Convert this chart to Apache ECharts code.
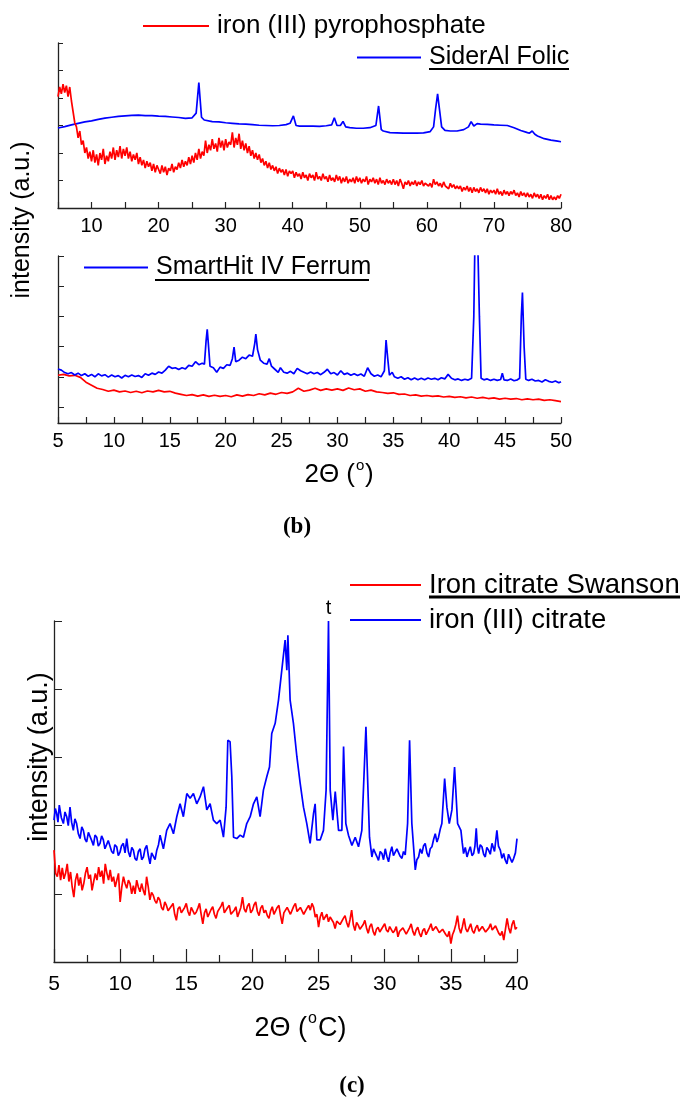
<!DOCTYPE html>
<html><head><meta charset="utf-8">
<script src="https://cdn.jsdelivr.net/npm/echarts@6/dist/echarts.min.js"></script>
<style>html,body{margin:0;padding:0;background:#fff}#c{width:680px;height:1097px}</style>
</head><body><div id="c"></div>
<script>
// ---------- Panel (b) top: 2Θ 5–80 ----------
const red1Start = 5, red1Step = 0.25;
const red1 = [
  4.05,4.4,4.15,4.5,4.2,4.45,4.05,4.4,3.9,3.5,3.1,2.95,2.55,2.8,2.3,2.45,2.0,2.2,1.8,2.05,
  1.7,2.1,1.65,1.95,1.55,2.0,1.75,2.15,1.6,1.9,1.7,2.05,1.8,2.2,1.75,2.1,1.85,2.25,1.8,2.15,
  1.9,2.2,1.8,2.05,1.7,1.95,1.75,2.0,1.6,1.85,1.55,1.75,1.45,1.7,1.5,1.65,1.35,1.6,1.3,1.55,
  1.4,1.25,1.55,1.3,1.5,1.2,1.45,1.35,1.6,1.3,1.5,1.4,1.65,1.45,1.75,1.5,1.7,1.55,1.85,1.6,
  1.9,1.65,2.0,1.75,2.15,1.8,2.05,1.9,2.45,2.0,2.3,2.1,2.5,2.15,2.35,2.05,2.55,2.2,2.45,2.1,
  2.5,2.2,2.4,2.3,2.75,2.2,2.55,2.3,2.7,2.15,2.45,2.1,2.35,2.0,2.25,1.9,2.1,1.8,2.0,1.75,
  1.95,1.65,1.8,1.55,1.7,1.45,1.65,1.4,1.55,1.35,1.5,1.25,1.45,1.3,1.4,1.2,1.4,1.15,1.35,1.25,
  1.35,1.1,1.3,1.15,1.25,1.05,1.3,1.1,1.2,1.0,1.25,1.1,1.2,1.0,1.3,1.05,1.15,1.0,1.25,1.05,
  1.15,0.95,1.2,1.0,1.1,0.95,1.2,1.0,1.15,0.9,1.1,0.95,1.15,0.9,1.05,0.95,1.1,0.9,1.15,0.95,
  1.1,0.9,1.05,0.95,1.15,0.85,1.05,0.95,1.1,0.9,1.05,0.85,1.1,0.9,1.0,0.85,1.05,0.9,1.0,0.85,
  1.05,0.85,1.0,0.8,1.05,0.9,0.7,0.95,0.85,1.0,0.8,0.95,0.85,1.0,0.8,0.95,0.85,1.0,0.8,0.9,
  0.95,0.8,0.9,0.75,1.05,0.85,0.95,0.8,0.9,0.75,0.95,0.8,0.85,0.7,0.9,0.75,0.85,0.7,0.8,0.7,
  0.8,0.6,0.75,0.65,0.8,0.6,0.75,0.55,0.75,0.6,0.7,0.55,0.75,0.6,0.7,0.55,0.7,0.5,0.65,0.55,
  0.65,0.5,0.7,0.5,0.6,0.45,0.65,0.5,0.6,0.45,0.6,0.5,0.65,0.45,0.55,0.4,0.6,0.45,0.55,0.4,
  0.55,0.4,0.5,0.35,0.55,0.4,0.5,0.35,0.5,0.3,0.45,0.35,0.5,0.3,0.45,0.3,0.4,0.3,0.45,0.35,
  0.5];
const blue1 = [[5,2.91],[6,2.96],[7,3.02],[8,3.08],[9,3.13],[10,3.17],[11,3.22],[12,3.27],[13,3.3],[14,3.33],
  [15,3.35],[16,3.37],[17,3.38],[18,3.36],[19,3.36],[20,3.34],[21,3.33],[22,3.31],[23,3.29],[24,3.26],
  [25,3.28],[25.6,3.45],[26.0,4.56],[26.4,3.3],[26.8,3.2],[28,3.14],[29,3.13],[30,3.1],[31,3.08],[32,3.06],
  [33,3.05],[34,3.03],[35,3.01],[36,3.0],[37,2.99],[38,3.0],[39,3.03],[39.6,3.08],[40.1,3.35],[40.5,3.0],
  [41,2.98],[42,2.98],[43,2.98],[44,2.97],[45,2.99],[45.8,3.02],[46.2,3.28],[46.6,3.0],[47.1,3.0],[47.5,3.15],
  [47.9,2.95],[48.5,2.92],[49.5,2.9],[50.5,2.9],[51.5,2.92],[52.4,3.0],[52.8,3.71],[53.2,2.85],[53.5,2.8],[54.5,2.74],
  [55.5,2.73],[56.5,2.72],[57.5,2.72],[58.5,2.72],[59.5,2.73],[60.5,2.78],[61.0,2.95],[61.3,3.6],[61.6,4.15],[61.9,3.55],
  [62.2,2.95],[62.7,2.82],[63.5,2.8],[64.5,2.8],[65.5,2.85],[66.2,2.95],[66.6,3.14],[67.0,2.98],[67.5,3.07],[68,3.05],
  [69,3.04],[70,3.02],[71,3.01],[72,3.0],[73,2.92],[74,2.82],[75,2.74],[75.3,2.72],[75.7,2.8],[76.1,2.68],
  [76.5,2.62],[77.5,2.52],[78.5,2.47],[79.5,2.43],[80,2.41]];

// ---------- Panel (b) bottom: 2Θ 5–50 ----------
const red2Start = 5, red2Step = 0.5;
const red2 = [1.05,1.08,1.03,1.05,0.98,0.82,0.72,0.62,0.58,0.52,
  0.56,0.5,0.53,0.48,0.52,0.47,0.53,0.5,0.55,0.5,
  0.52,0.46,0.42,0.38,0.41,0.36,0.4,0.35,0.39,0.35,
  0.38,0.34,0.4,0.36,0.41,0.38,0.44,0.4,0.46,0.42,
  0.48,0.45,0.5,0.62,0.52,0.56,0.62,0.55,0.6,0.56,
  0.6,0.55,0.63,0.57,0.6,0.52,0.56,0.5,0.48,0.45,
  0.47,0.42,0.43,0.38,0.4,0.36,0.38,0.35,0.37,0.33,
  0.35,0.32,0.34,0.3,0.33,0.29,0.32,0.28,0.3,0.26,
  0.29,0.26,0.28,0.24,0.27,0.24,0.26,0.22,0.24,0.21,
  0.18];
const blue2 = [[5.0,1.26],[5.3,1.22],[5.6,1.14],[5.9,1.1],[6.2,1.14],[6.5,1.06],[6.8,1.12],[7.1,1.04],[7.4,1.1],[7.7,1.02],
  [8.0,1.08],[8.3,1.0],[8.6,1.1],[8.9,1.03],[9.2,1.07],[9.5,0.99],[9.8,1.06],[10.1,1.0],[10.4,1.04],[10.7,0.96],
  [11.0,1.05],[11.3,1.0],[11.6,1.06],[11.9,1.01],[12.2,1.04],[12.5,0.98],[12.8,1.1],[13.1,1.05],[13.4,1.12],[13.7,1.08],
  [14.0,1.16],[14.3,1.12],[14.6,1.22],[14.9,1.35],[15.2,1.28],[15.5,1.3],[15.8,1.24],[16.1,1.3],[16.4,1.26],[16.7,1.38],
  [17.0,1.35],[17.3,1.5],[17.6,1.4],[17.9,1.45],[18.1,1.42],[18.25,2.2],[18.35,2.57],[18.45,2.1],[18.6,1.35],[18.9,1.3],
  [19.2,1.15],[19.5,1.32],[19.8,1.28],[20.1,1.4],[20.4,1.38],[20.6,1.6],[20.75,1.98],[20.9,1.5],[21.2,1.55],[21.5,1.65],
  [21.8,1.6],[22.1,1.72],[22.4,1.68],[22.6,2.1],[22.7,2.41],[22.85,1.9],[23.1,1.55],[23.4,1.45],[23.7,1.42],[23.9,1.6],
  [24.1,1.35],[24.4,1.25],[24.7,1.15],[24.9,1.3],[25.2,1.15],[25.5,1.12],[25.8,1.18],[26.1,1.1],[26.4,1.28],[26.7,1.2],
  [27.0,1.15],[27.3,1.1],[27.6,1.16],[27.9,1.1],[28.2,1.14],[28.5,1.07],[28.8,1.15],[29.1,1.25],[29.4,1.1],[29.7,1.14],
  [30.0,1.06],[30.3,1.2],[30.6,1.08],[30.9,1.12],[31.2,1.05],[31.5,1.1],[31.8,1.04],[32.1,1.09],[32.4,1.02],[32.7,1.3],
  [33.0,1.1],[33.3,1.02],[33.6,1.06],[33.9,1.0],[34.2,1.2],[34.35,2.22],[34.5,1.6],[34.65,1.05],[34.9,1.15],[35.1,1.0],
  [35.4,0.95],[35.7,1.0],[36.0,0.92],[36.3,0.97],[36.6,0.9],[36.9,0.96],[37.2,0.9],[37.5,0.95],[37.8,0.9],[38.1,0.96],
  [38.4,0.92],[38.7,0.95],[39.0,0.9],[39.3,0.97],[39.6,0.93],[39.9,1.08],[40.2,0.95],[40.5,0.9],[40.8,0.93],[41.1,0.88],
  [41.4,0.92],[41.7,0.89],[42.0,0.95],[42.2,3.0],[42.3,5.5],[42.55,5.5],[42.7,3.0],[42.85,0.95],[43.1,0.9],[43.4,0.93],
  [43.7,0.88],[44.0,0.92],[44.3,0.88],[44.6,0.91],[44.75,1.12],[44.9,0.9],[45.2,0.88],[45.5,0.93],[45.8,0.87],[46.1,0.9],
  [46.3,0.95],[46.45,3.0],[46.55,3.79],[46.7,2.0],[46.85,0.92],[47.1,0.88],[47.4,0.92],[47.7,0.86],[48.0,0.88],[48.3,0.83],
  [48.6,0.9],[48.9,0.85],[49.2,0.82],[49.5,0.86],[49.8,0.8],[50.0,0.84]];

// ---------- Panel (c): 2Θ 5–40 ----------
const red3Start = 5, red3Step = 0.125;
const red3 = [
  1.64,1.30,1.25,1.42,1.20,1.38,1.22,1.30,1.44,1.18,1.32,1.10,0.95,1.20,1.30,1.12,1.24,1.05,1.15,1.30,
  1.39,1.22,1.28,1.05,1.18,1.30,1.20,1.39,1.25,1.34,1.15,1.44,1.30,1.20,1.35,1.18,1.25,1.10,1.20,1.30,
  0.88,1.10,1.25,1.15,1.08,1.20,1.15,1.00,1.12,1.00,1.20,1.10,1.03,1.15,1.05,0.98,1.25,1.10,0.91,1.02,
  0.98,0.90,0.86,0.95,0.91,0.80,0.76,0.88,0.83,0.75,0.73,0.82,0.86,0.70,0.61,0.78,0.81,0.72,0.71,0.80,
  0.86,0.74,0.68,0.80,0.81,0.70,0.73,0.79,0.86,0.70,0.56,0.72,0.78,0.66,0.68,0.77,0.81,0.70,0.64,0.74,
  0.76,0.82,0.88,0.72,0.71,0.80,0.83,0.70,0.68,0.76,0.81,0.66,0.64,0.80,0.95,0.78,0.73,0.82,0.86,0.72,
  0.76,0.84,0.88,0.74,0.68,0.79,0.83,0.72,0.76,0.68,0.64,0.75,0.81,0.70,0.71,0.80,0.83,0.68,0.56,0.72,
  0.76,0.80,0.78,0.70,0.71,0.82,0.86,0.74,0.73,0.80,0.81,0.70,0.68,0.79,0.83,0.76,0.86,0.80,0.66,0.70,
  0.51,0.66,0.73,0.62,0.64,0.70,0.59,0.66,0.66,0.58,0.49,0.60,0.61,0.55,0.56,0.64,0.68,0.58,0.51,0.62,
  0.76,0.55,0.46,0.58,0.54,0.48,0.46,0.55,0.61,0.50,0.42,0.52,0.56,0.45,0.39,0.48,0.51,0.44,0.42,0.52,
  0.56,0.47,0.44,0.52,0.51,0.43,0.46,0.52,0.37,0.45,0.44,0.50,0.51,0.41,0.42,0.50,0.56,0.45,0.39,0.47,
  0.51,0.42,0.37,0.46,0.49,0.40,0.42,0.50,0.56,0.46,0.44,0.52,0.51,0.43,0.42,0.48,0.49,0.40,0.37,0.45,
  0.27,0.40,0.46,0.55,0.68,0.50,0.42,0.52,0.64,0.49,0.44,0.50,0.56,0.46,0.42,0.50,0.54,0.45,0.44,0.52,
  0.51,0.44,0.42,0.50,0.56,0.47,0.46,0.53,0.51,0.42,0.39,0.45,0.32,0.48,0.64,0.50,0.42,0.55,0.61,0.48,
  0.51];
const blue3 = [[5.00,2.08],[5.10,2.25],[5.20,2.18],[5.30,2.05],[5.40,2.30],[5.55,2.12],[5.71,2.03],[5.83,2.2],[5.96,2.13],[6.08,2.0],
  [6.21,2.27],[6.33,2.05],[6.46,1.93],[6.58,2.1],[6.71,2.03],[6.84,1.88],[6.97,1.81],[7.1,1.98],[7.22,1.93],[7.35,1.8],
  [7.47,1.76],[7.6,1.9],[7.72,1.91],[7.85,1.78],[7.98,1.71],[8.1,1.86],[8.23,1.83],[8.35,1.7],[8.48,1.74],[8.6,1.85],
  [8.73,1.79],[8.85,1.66],[8.98,1.64],[9.1,1.78],[9.24,1.76],[9.36,1.62],[9.49,1.59],[9.6,1.72],[9.74,1.69],[9.86,1.56],
  [9.99,1.61],[10.1,1.7],[10.24,1.74],[10.37,1.6],[10.50,1.81],[10.62,1.62],[10.75,1.54],[10.88,1.68],[11.00,1.64],[11.12,1.52],
  [11.25,1.49],[11.38,1.62],[11.51,1.66],[11.63,1.5],[11.76,1.54],[11.88,1.66],[12.01,1.71],[12.14,1.55],[12.26,1.44],[12.38,1.6],
  [12.51,1.59],[12.64,1.5],[12.77,1.64],[12.9,1.72],[13.02,1.86],[13.27,1.66],[13.52,1.93],[13.77,2.03],[14.03,1.88],[14.28,2.13],
  [14.53,2.32],[14.78,2.13],[15.04,2.47],[15.29,2.40],[15.54,2.47],[15.79,2.32],[16.04,2.42],[16.30,2.57],[16.55,2.23],[16.80,2.32],
  [17.05,2.08],[17.30,2.03],[17.56,2.08],[17.81,1.83],[18.01,2.27],[18.14,3.25],[18.31,3.23],[18.44,2.72],[18.57,1.83],[18.82,1.81],
  [19.07,1.86],[19.32,1.83],[19.57,2.03],[19.83,2.13],[20.08,2.32],[20.33,2.42],[20.58,2.13],[20.83,2.52],[21.09,2.72],[21.29,2.86],
  [21.46,3.35],[21.72,3.50],[21.97,3.84],[22.22,4.28],[22.47,4.72],[22.60,4.28],[22.68,4.79],[22.85,3.84],[23.10,3.50],[23.36,3.01],
  [23.61,2.62],[23.86,2.27],[24.11,2.03],[24.36,1.74],[24.62,2.18],[24.74,2.32],[24.87,1.79],[25.12,1.79],[25.37,1.93],[25.57,2.52],
  [25.75,5.00],[25.88,2.52],[26.08,2.08],[26.26,2.50],[26.51,1.93],[26.76,1.93],[26.89,3.16],[27.06,2.03],[27.26,1.86],[27.52,1.71],
  [27.77,1.83],[28.02,1.69],[28.27,1.93],[28.58,3.45],[28.85,1.83],[29.03,1.54],[29.15,1.66],[29.28,1.64],[29.4,1.55],[29.53,1.49],
  [29.66,1.62],[29.79,1.59],[29.91,1.5],[30.04,1.66],[30.16,1.55],[30.29,1.47],[30.41,1.6],[30.54,1.69],[30.66,1.56],[30.79,1.54],
  [30.92,1.66],[31.05,1.64],[31.17,1.55],[31.30,1.52],[31.42,1.62],[31.55,1.57],[31.73,2.03],[31.88,3.25],[32.05,2.03],[32.31,1.35],
  [32.43,1.5],[32.56,1.54],[32.68,1.66],[32.81,1.59],[32.93,1.7],[33.06,1.74],[33.19,1.6],[33.32,1.54],[33.44,1.66],[33.57,1.69],
  [33.7,1.8],[33.82,1.88],[33.95,1.76],[34.07,1.83],[34.2,1.95],[34.32,2.03],[34.53,2.69],[34.70,2.27],[34.88,2.03],[35.08,2.23],
  [35.28,2.86],[35.51,2.03],[35.76,1.93],[35.86,1.75],[35.96,1.59],[36.09,1.68],[36.22,1.54],[36.34,1.62],[36.47,1.69],[36.6,1.56],
  [36.72,1.59],[36.82,1.7],[36.92,1.96],[37.0,1.7],[37.10,1.59],[37.22,1.72],[37.35,1.69],[37.48,1.58],[37.60,1.54],[37.72,1.68],
  [37.85,1.64],[37.98,1.58],[38.11,1.74],[38.3,1.62],[38.48,1.93],[38.6,1.7],[38.74,1.64],[38.86,1.52],[38.99,1.59],[39.1,1.5],
  [39.24,1.44],[39.36,1.58],[39.49,1.57],[39.62,1.46],[39.75,1.52],[39.88,1.6],[40.00,1.81]];

const names = {
  red1: 'iron (III) pyrophosphate', blue1: 'SiderAl Folic',
  red2: 'iron (III) pyrophosphate (ref.)', blue2: 'SmartHit IV Ferrum',
  red3: 'Iron citrate Swanson', blue3: 'iron (III) citrate'
};
const peakLabel = { x: 25.75, y: 5.0, text: 't' };

// ---------- build ----------
const grid = (a, s, st) => a.map((v, i) => [s + i * st, v]);
const FONT = "'Liberation Sans', Arial, sans-serif";
const RED = '#ff0000', BLUE = '#0000ff', AX = '#222';

function xAx(gi, min, max, opts) {
  return Object.assign({
    gridIndex: gi, type: 'value', min: min, max: max, interval: 5,
    axisLine: { onZero: false, lineStyle: { color: AX, width: 1.3 } },
    axisTick: { inside: true, length: 6, lineStyle: { color: AX, width: 1.2 } },
    axisLabel: { fontSize: 20, color: '#000', fontFamily: FONT, margin: 8 },
    splitLine: { show: false }
  }, opts);
}
function yAx(gi, min, max, opts) {
  return Object.assign({
    gridIndex: gi, type: 'value', min: min, max: max,
    axisLine: { show: true, onZero: false, lineStyle: { color: AX, width: 1.3 } },
    axisLabel: { show: false }, splitLine: { show: false }
  }, opts);
}
function line(name, xi, color, data, extra) {
  return Object.assign({
    name: name, type: 'line', xAxisIndex: xi, yAxisIndex: xi, data: data,
    symbol: 'none', smooth: false, color: color,
    lineStyle: { color: color, width: 1.7 }, clip: true
  }, extra || {});
}
function leg(name, left, top, w, fs) {
  return {
    data: [name], left: left, top: top, padding: 0, itemWidth: w, itemHeight: 2,
    icon: 'rect', selectedMode: false,
    textStyle: { fontSize: fs, color: '#000', fontFamily: FONT, padding: [0, 0, 0, 3] }
  };
}
function txt(x, y, s, fs, extra) {
  return { type: 'text', x: x, y: y, style: Object.assign({ text: s, fontSize: fs, fontFamily: FONT, fill: '#000',
    align: 'left', verticalAlign: 'middle' }, extra || {}) };
}

const chart = echarts.init(document.getElementById('c'), null, { renderer: 'canvas' });
chart.setOption({
  animation: false,
  backgroundColor: '#fff',
  grid: [
    { left: 58, top: 43, width: 503, height: 165 },
    { left: 58, top: 256, width: 503, height: 167 },
    { left: 54, top: 621, width: 463, height: 341 }
  ],
  xAxis: [
    xAx(0, 5, 80, { axisLabel: { fontSize: 20, color: '#000', fontFamily: FONT, margin: 8,
      formatter: v => (v % 10 === 0 ? String(v) : '') } }),
    xAx(1, 5, 50, { minorTick: { show: true, splitNumber: 2, length: 6, lineStyle: { color: AX, width: 1.2 } } }),
    xAx(2, 5, 40, { axisTick: { inside: true, length: 13, lineStyle: { color: AX, width: 1.2 } },
      minorTick: { show: true, splitNumber: 2, length: 7, lineStyle: { color: AX, width: 1.2 } },
      axisLabel: { fontSize: 21, color: '#000', fontFamily: FONT, margin: 12 } })
  ],
  yAxis: [
    yAx(0, 0, 6, { interval: 1, axisTick: { inside: true, length: 5, lineStyle: { color: AX } } }),
    yAx(1, -0.53, 5, { axisTick: { inside: true, length: 6, customValues: [0, 1, 2, 3, 4, 5], lineStyle: { color: AX } } }),
    yAx(2, 0, 5, { interval: 1, axisTick: { inside: true, length: 8, lineStyle: { color: AX } } })
  ],
  legend: [
    leg(names.red1, 143, 13, 66, 26),
    leg(names.blue1, 357, 45, 64, 25),
    leg(names.blue2, 84, 255, 64, 25),
    leg(names.red3, 350, 571, 71, 27.5),
    leg(names.blue3, 350, 606, 71, 27.5)
  ],
  series: [
    line(names.blue1, 0, BLUE, blue1),
    line(names.red1, 0, RED, grid(red1, red1Start, red1Step)),
    line(names.red2, 1, RED, grid(red2, red2Start, red2Step)),
    line(names.blue2, 1, BLUE, blue2),
    line(names.red3, 2, RED, grid(red3, red3Start, red3Step)),
    line(names.blue3, 2, BLUE, blue3, {
      markPoint: {
        symbol: 'circle', symbolSize: 1, itemStyle: { color: 'rgba(0,0,0,0)' },
        label: { show: true, position: 'top', distance: 2, formatter: peakLabel.text,
          fontSize: 20, color: '#000', fontFamily: FONT },
        data: [{ coord: [peakLabel.x, peakLabel.y], value: peakLabel.text }]
      }
    })
  ],
  graphic: [
    { type: 'line', shape: { x1: 429, y1: 69, x2: 569, y2: 69 }, style: { stroke: '#000', lineWidth: 2 } },
    { type: 'line', shape: { x1: 155, y1: 280, x2: 369, y2: 280 }, style: { stroke: '#000', lineWidth: 2 } },
    { type: 'line', shape: { x1: 429, y1: 597, x2: 680, y2: 597 }, style: { stroke: '#000', lineWidth: 3 } },
    { type: 'text', x: 22, y: 220, rotation: Math.PI / 2,
      style: { text: 'intensity (a.u.)', fontSize: 25, fontFamily: FONT, fill: '#000', align: 'center', verticalAlign: 'middle' } },
    { type: 'text', x: 40, y: 757, rotation: Math.PI / 2,
      style: { text: 'intensity (a.u.)', fontSize: 27, fontFamily: FONT, fill: '#000', align: 'center', verticalAlign: 'middle' } },
    txt(355, 475, '2Θ (', 26, { align: 'right' }),
    txt(356, 466, 'o', 15),
    txt(365, 475, ')', 26),
    txt(307, 1029, '2Θ (', 27, { align: 'right' }),
    txt(308, 1019, 'o', 16),
    txt(318, 1029, 'C)', 27),
    { type: 'text', x: 297, y: 527,
      style: { text: '(b)', fontSize: 23, fontWeight: 'bold', fontFamily: "'Liberation Serif', serif", fill: '#000', align: 'center', verticalAlign: 'middle' } },
    { type: 'text', x: 352, y: 1086,
      style: { text: '(c)', fontSize: 23, fontWeight: 'bold', fontFamily: "'Liberation Serif', serif", fill: '#000', align: 'center', verticalAlign: 'middle' } }
  ]
});
</script></body></html>
